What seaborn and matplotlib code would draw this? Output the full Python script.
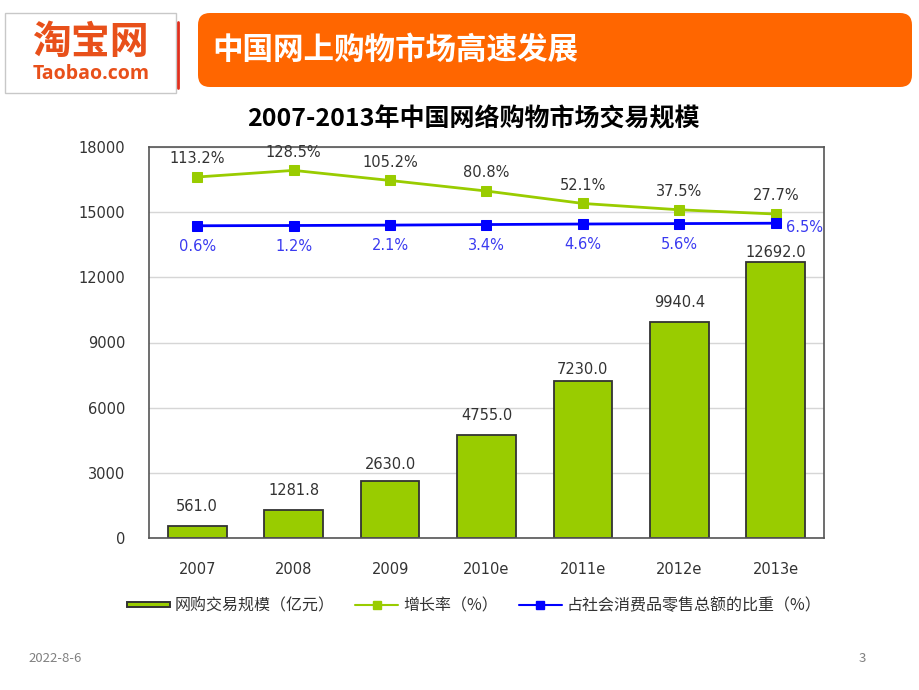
import numpy as np
import pandas as pd
import matplotlib
matplotlib.use("Agg")
import matplotlib.pyplot as plt
from matplotlib.patches import FancyBboxPatch, Rectangle, Patch
from matplotlib.lines import Line2D
from matplotlib.legend_handler import HandlerPatch
import seaborn as sns

# ---------------- data ----------------
years = ["2007", "2008", "2009", "2010e", "2011e", "2012e", "2013e"]
volume = [561.0, 1281.8, 2630.0, 4755.0, 7230.0, 9940.4, 12692.0]      # 网购交易规模（亿元）
growth = [113.2, 128.5, 105.2, 80.8, 52.1, 37.5, 27.7]                  # 增长率（%）
share = [0.6, 1.2, 2.1, 3.4, 4.6, 5.6, 6.5]                              # 占社会消费品零售总额的比重（%）
yticks = [0, 3000, 6000, 9000, 12000, 15000, 18000]

title_slide = "中国网上购物市场高速发展"
title_chart = "2007-2013年中国网络购物市场交易规模"
legend_labels = ["网购交易规模（亿元）", "增长率（%）", "占社会消费品零售总额的比重（%）"]

df = pd.DataFrame({"year": years, "volume": volume, "growth": growth,
                   "share": share, "pos": np.arange(len(years))})

# ---------------- style ----------------
sns.set_style("white")
CJK = ["Noto Sans CJK SC", "DejaVu Sans"]
NUM = ["DejaVu Sans", "Noto Sans CJK SC"]
plt.rcParams["font.family"] = NUM

GREEN = "#99CC00"
BLUE = "#0000FF"
ORANGE = "#FF6600"
LOGO = "#E8501A"
EDGE = "#333333"
TXT = "#333333"

W, H = 920, 690
fig = plt.figure(figsize=(9.2, 6.9), dpi=100)

# background layer in pixel units for header / footer
bg = fig.add_axes([0, 0, 1, 1])
bg.set_xlim(0, W)
bg.set_ylim(H, 0)
bg.axis("off")
bg.add_patch(Rectangle((5, 13), 171, 80, facecolor="white", edgecolor="#C8C8C8", lw=1))
bg.plot([178, 178], [22, 88], color="#E0301E", lw=2)
bg.text(90, 42, "淘宝网", color=LOGO, fontsize=28, fontweight="bold", ha="center", va="center",
        family=CJK)
bg.text(91, 74, "Taobao.com", color=LOGO, fontsize=14, fontweight="bold", ha="center", va="center",
        family=["Open Sans", "DejaVu Sans"])
bg.add_patch(FancyBboxPatch((198, 13), 714, 74, boxstyle="round,pad=0,rounding_size=12",
                            facecolor=ORANGE, edgecolor="none"))
bg.text(212, 50, title_slide, color="white", fontsize=22, fontweight="bold", ha="left", va="center",
        family=CJK)
bg.text(473, 119, title_chart, color="black", fontsize=18, fontweight="bold", ha="center", va="center",
        family=CJK)
bg.text(28, 658, "2022-8-6", color="#808080", fontsize=9.5, ha="left", va="center", family=CJK)
bg.text(862, 658, "3", color="#808080", fontsize=9.5, ha="center", va="center", family=CJK)

# ---------------- main chart ----------------
L, R, T, B = 149, 824, 147, 538
ax = fig.add_axes([L / W, (H - B) / H, (R - L) / W, (B - T) / H])
sns.barplot(data=df, x="year", y="volume", color=GREEN, edgecolor=EDGE, linewidth=1.3,
            width=0.61, saturation=1, ax=ax)
ax.set_xlim(-0.5, len(years) - 0.5)
ax.set_ylim(0, 18000)
ax.set_yticks(yticks)
ax.set_yticklabels([str(v) for v in yticks])
ax.yaxis.grid(True, color="#D6D6D6", lw=1)
ax.set_axisbelow(True)
ax.set_xlabel("")
ax.set_ylabel("")
ax.tick_params(axis="both", length=0, labelsize=10.5, colors=TXT)
ax.tick_params(axis="x", pad=17)
ax.tick_params(axis="y", pad=17)
for s in ax.spines.values():
    s.set_visible(True)
    s.set_color("#555555")
    s.set_linewidth(1.2)

bar_pad = [14, 14, 12, 14, 8, 14, 7]
for i, v in enumerate(volume):
    ax.annotate(f"{v:.1f}", (i, v), xytext=(0, bar_pad[i]), textcoords="offset points",
                ha="center", va="center", fontsize=10.5, color=TXT)

# secondary (hidden) axis for percentage lines
ax2 = ax.twinx()
sns.lineplot(data=df, x="pos", y="growth", color=GREEN, lw=2, marker="s", markersize=7.5,
             markeredgecolor=GREEN, ax=ax2)
sns.lineplot(data=df, x="pos", y="share", color=BLUE, lw=2, marker="s", markersize=7.5,
             markeredgecolor=BLUE, ax=ax2)
ax2.set_ylim(-720.5, 182.5)
ax2.set_xlim(-0.5, len(years) - 0.5)
ax2.set_yticks([])
ax2.set_ylabel("")
ax2.set_xlabel("")
for s in ax2.spines.values():
    s.set_visible(False)

for i, g in enumerate(growth):
    ax2.annotate(f"{g:.1f}%", (i, g), xytext=(0, 13), textcoords="offset points",
                 ha="center", va="center", fontsize=10.5, color=TXT)
for i, s in enumerate(share):
    if i == len(share) - 1:
        ax2.annotate(f"{s:.1f}%", (i, s), xytext=(7, -3), textcoords="offset points",
                     ha="left", va="center", fontsize=10.5, color="#3A3AF0")
    else:
        ax2.annotate(f"{s:.1f}%", (i, s), xytext=(0, -15), textcoords="offset points",
                     ha="center", va="center", fontsize=10.5, color="#3A3AF0")


# ---------------- legend ----------------
class FlatBar(HandlerPatch):
    def create_artists(self, legend, orig_handle, xdescent, ydescent, width, height,
                       fontsize, trans):
        r = Rectangle((-xdescent, -ydescent + height * 0.28), width, height * 0.44,
                      facecolor=orig_handle.get_facecolor(), edgecolor=orig_handle.get_edgecolor(),
                      lw=1.4, transform=trans)
        return [r]


bar_handle = Patch(facecolor=GREEN, edgecolor=EDGE)
handles = [
    bar_handle,
    Line2D([0], [0], color=GREEN, lw=1.5, marker="s", markersize=6),
    Line2D([0], [0], color=BLUE, lw=1.5, marker="s", markersize=6),
]
fig.legend(handles, legend_labels, loc="center", bbox_to_anchor=(474 / W, 1 - 606 / H),
           ncol=3, frameon=False, prop={"family": CJK, "size": 11.5}, handlelength=2.7,
           columnspacing=1.3, handletextpad=0.3, labelcolor=TXT,
           handler_map={bar_handle: FlatBar()})

fig.savefig("out.png", dpi=100)
